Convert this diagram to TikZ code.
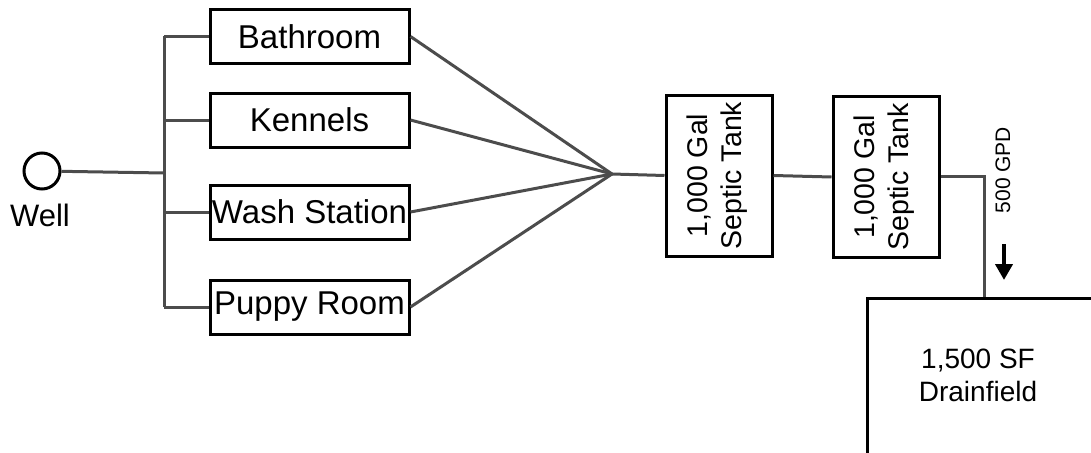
\documentclass[tikz,border=0pt]{standalone}
\usepackage{fontspec}
\setmainfont{Liberation Sans}
\usetikzlibrary{arrows.meta}
\tikzset{
  room/.style={draw, line width=3pt, inner sep=0pt, minimum width=199pt, minimum height=54pt, font=\fontsize{33}{39}\selectfont},
  tank/.style={draw, line width=3pt, inner sep=0pt, minimum width=106pt, minimum height=161pt},
  pipe/.style={draw=black!70, line width=3pt},
}
\begin{document}
\begin{tikzpicture}[x=1pt, y=-1pt]
    \useasboundingbox (0,0) rectangle (1091,452);
    \clip (0,0) rectangle (1091,452);
    % source and branches
    \node[draw, circle, line width=3pt, minimum size=36pt, inner sep=0pt] (well) at (42,171) {};
    \node[font=\fontsize{31}{36}\selectfont] (welltext) at (40,215) {Well};
    \node[room] (bath) at (309.5,36.5) {Bathroom};
    \node[room] (kenn) at (309.5,120) {Kennels};
    \node[room] (wash) at (309.5,212) {Wash Station};
    \node[room] (pupp) at (309.5,307) {Puppy Room};
    \coordinate (bustop) at (164,36.5);
    \coordinate (busbot) at (164,307);
    \coordinate (busin) at (164,173);
    \coordinate (fan) at (612,174);
    \draw[pipe] (well) -- (busin);
    \draw[pipe] (bustop) -- (busbot);
    \draw[pipe] (bustop) -- (bath.west);
    \draw[pipe] (kenn.west -| busin) -- (kenn.west);
    \draw[pipe] (wash.west -| busin) -- (wash.west);
    \draw[pipe] (busbot) -- (pupp.west);
    \foreach \r in {bath,kenn,wash,pupp}
        \draw[pipe] (\r.east) -- (fan);
    % tanks
    \node[tank] (tankA) at (719,175.5) {};
    \node[tank] (tankB) at (886,177) {};
    \node[rotate=90, align=center, font=\fontsize{28.5}{34}\selectfont] (tankAtext) at (717,175.5) {1,000 Gal\\Septic Tank};
    \node[rotate=90, align=center, font=\fontsize{28.5}{34}\selectfont] (tankBtext) at (884,177) {1,000 Gal\\Septic Tank};
    \draw[pipe] (fan) -- (tankA.west);
    \draw[pipe] (tankA.east) -- (tankB.west);
    % drainfield
    \node[draw, line width=3pt, inner sep=0pt, minimum width=300pt, minimum height=240pt, anchor=north west] (drain) at (866,297) {};
    \node[align=center, font=\fontsize{28}{33}\selectfont] (draintext) at (978,375) {1,500 SF\\Drainfield};
    \coordinate (bend) at (984,176);
    \draw[pipe] (tankB.east |- bend) -- (bend) -- (bend |- drain.north);
    \node[rotate=90, font=\fontsize{21}{25}\selectfont] (flow) at (1003,170) {500 GPD};
    \coordinate (flowA) at (1004,244);
    \coordinate (flowB) at (1004,280);
    \draw[line width=4pt, -{Triangle[width=17pt,length=16pt]}] (flowA) -- (flowB);
\end{tikzpicture}
\end{document}
